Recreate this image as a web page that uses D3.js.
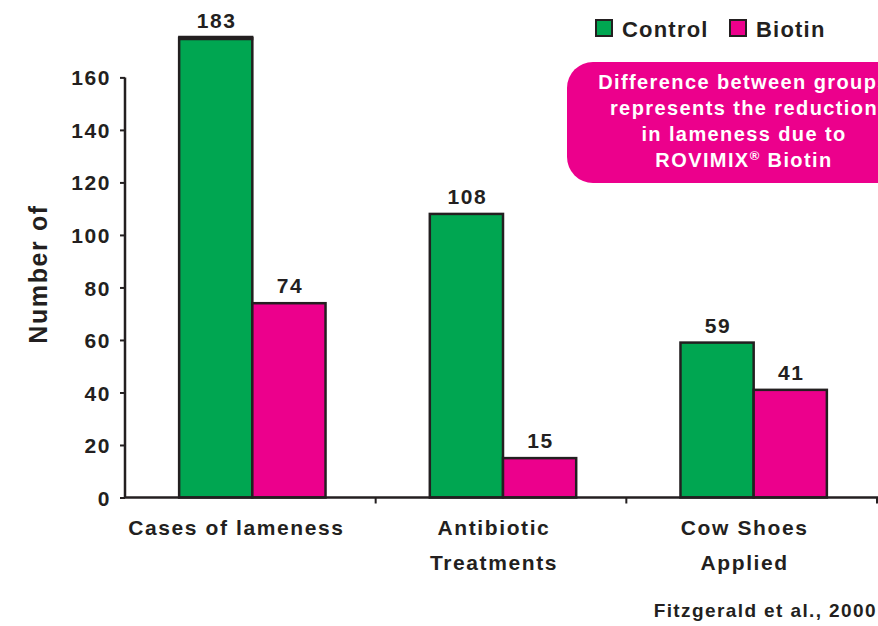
<!DOCTYPE html>
<html><head><meta charset="utf-8">
<script src="https://cdn.jsdelivr.net/npm/d3@7"></script>
<style>body{margin:0;background:#fff;} text{font-family:"Liberation Sans",Arial,sans-serif;font-weight:bold;fill:#231f20;}</style>
</head><body>
<svg id="c" width="878" height="626"></svg>
<script>
const categories = [["Cases of lameness"], ["Antibiotic", "Treatments"], ["Cow Shoes", "Applied"]];
const seriesNames = ["Control", "Biotin"];
const control = [183, 108, 59];
const biotin = [74, 15, 41];
const yTicks = [0, 20, 40, 60, 80, 100, 120, 140, 160];
const colors = ["#00a651", "#ec008c"];
const calloutLines = ["Difference between groups", "represents the reduction", "in lameness due to"];
const source = "Fitzgerald et al., 2000";

const svg = d3.select("#c");
const ink = "#231f20";
const x0 = 125, x1 = 877, yBase = 497.5, yTopPx = 38;
const y = d3.scaleLinear().domain([0, 175]).range([yBase, yTopPx]).clamp(true);
const x = d3.scaleBand().domain(d3.range(categories.length)).range([x0, x1]).padding(0);
const bw = x.bandwidth() * 0.292;
const LS = "1.6px";

// bars
const data = [];
categories.forEach((c, i) => {
  [control[i], biotin[i]].forEach((v, s) => data.push({i, s, v}));
});
const barX = d => x(d.i) + x.bandwidth() / 2 + 2 - bw + d.s * bw;
svg.selectAll("rect.bar").data(data).join("rect")
  .attr("x", barX).attr("width", bw)
  .attr("y", d => y(d.v)).attr("height", d => yBase - y(d.v))
  .attr("fill", d => colors[d.s]).attr("stroke", ink).attr("stroke-width", 2.5);
// thick top on truncated bar
svg.selectAll("line.brk").data(data.filter(d => d.v > y.domain()[1])).join("line")
  .attr("x1", d => barX(d) - 1).attr("x2", d => barX(d) + bw + 1)
  .attr("y1", d => y(d.v)).attr("y2", d => y(d.v))
  .attr("stroke", ink).attr("stroke-width", 4.5);
// value labels
svg.selectAll("text.val").data(data).join("text")
  .attr("x", d => barX(d) + bw / 2 + 1).attr("y", d => y(d.v) - 10)
  .attr("text-anchor", "middle").attr("font-size", 21).style("letter-spacing", LS).text(d => d.v);

// y axis
const yAxis = d3.axisLeft(y).tickValues(yTicks).tickSize(5).tickSizeOuter(0);
const gy = svg.append("g").attr("transform", `translate(${x0},0)`).call(yAxis);
gy.select(".domain").remove();
gy.append("line").attr("x1", 0).attr("x2", 0).attr("y1", y(160)).attr("y2", yBase).attr("stroke", ink).attr("stroke-width", 2.5);
gy.selectAll(".tick line").attr("stroke", ink).attr("stroke-width", 2);
gy.selectAll(".tick text").attr("font-size", 21).attr("x", -14).attr("dy", "0.36em")
  .style("letter-spacing", LS)
  .style("font-family", '"Liberation Sans",Arial,sans-serif').style("font-weight", "bold").attr("fill", ink);

// x axis
svg.append("line").attr("x1", x0).attr("x2", 878).attr("y1", yBase).attr("y2", yBase).attr("stroke", ink).attr("stroke-width", 2.5);
svg.selectAll("line.xt").data(d3.range(1, categories.length + 1)).join("line")
  .attr("x1", i => x0 + i * x.bandwidth()).attr("x2", i => x0 + i * x.bandwidth())
  .attr("y1", yBase).attr("y2", yBase + 6).attr("stroke", ink).attr("stroke-width", 2);
categories.forEach((lines, i) => {
  const cx = x(i) + x.bandwidth() / 2 - (i === 0 ? 14 : 7);
  const t = svg.append("text").attr("text-anchor", "middle").attr("font-size", 21)
    .style("letter-spacing", LS).attr("y", 535);
  lines.forEach((l, k) => t.append("tspan").attr("x", cx).attr("dy", k ? 35 : 0).text(l));
});

// y title
svg.append("text").attr("transform", "translate(47,274) rotate(-90)").attr("text-anchor", "middle")
  .attr("font-size", 25).style("letter-spacing", "1.6px").text("Number of");

// legend
const lg = svg.append("g");
const legX = [596, 730];
seriesNames.forEach((n, s) => {
  lg.append("rect").attr("x", legX[s]).attr("y", 20).attr("width", 16).attr("height", 16)
    .attr("fill", colors[s]).attr("stroke", ink).attr("stroke-width", 2);
  lg.append("text").attr("x", legX[s] + 26).attr("y", 37).attr("font-size", 22)
    .style("letter-spacing", "1.2px").text(n);
});

// callout
svg.append("rect").attr("x", 567).attr("y", 62).attr("width", 360).attr("height", 121).attr("rx", 26)
  .attr("fill", "#ec008c");
const ct = svg.append("text").attr("text-anchor", "middle").attr("font-size", 20)
  .style("fill", "#fff").style("letter-spacing", "1.4px");
calloutLines.forEach((l, k) => ct.append("tspan").attr("x", 744).attr("y", 89 + k * 26).text(l));
const l4 = ct.append("tspan").attr("x", 744).attr("y", 89 + 3 * 26);
l4.append("tspan").text("ROVIMIX");
l4.append("tspan").attr("font-size", 13).attr("dy", -7).text("®");
l4.append("tspan").attr("dy", 7).text(" Biotin");

// source
svg.append("text").attr("x", 877).attr("y", 617).attr("text-anchor", "end").attr("font-size", 19)
  .style("letter-spacing", "1.4px").text(source);
</script>
</body></html>
